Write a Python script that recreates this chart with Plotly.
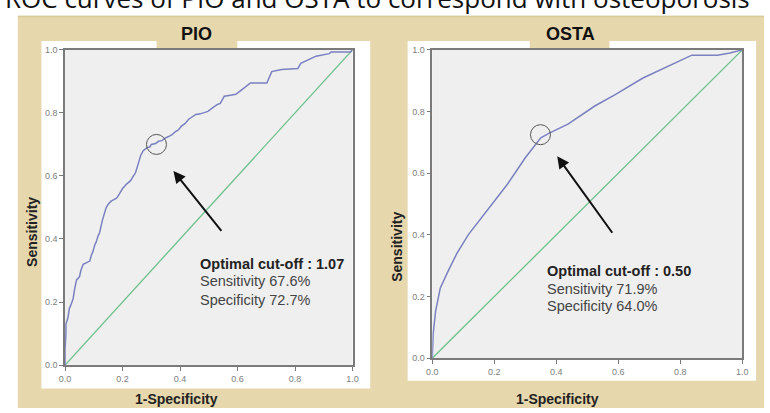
import plotly.graph_objects as go

# ---------------- data ----------------
pio_fpr = [0, 0, 0.003, 0.003, 0.01, 0.015, 0.02, 0.028, 0.033, 0.04, 0.05, 0.055, 0.063, 0.075,
           0.086, 0.092, 0.097, 0.103, 0.108, 0.115, 0.12, 0.13, 0.137, 0.143, 0.15, 0.16, 0.17,
           0.18, 0.19, 0.2, 0.215, 0.228, 0.238, 0.245, 0.255, 0.263, 0.272, 0.285, 0.295, 0.30,
           0.315, 0.325, 0.337, 0.348, 0.36, 0.371, 0.383, 0.394, 0.405, 0.417, 0.43, 0.44, 0.455,
           0.47, 0.48, 0.497, 0.514, 0.53, 0.54, 0.554, 0.575, 0.594, 0.61, 0.63, 0.645, 0.702,
           0.71, 0.719, 0.753, 0.81, 0.82, 0.84, 0.856, 0.873, 0.919, 0.925, 0.993, 1.0]
pio_tpr = [0, 0.05, 0.10, 0.13, 0.15, 0.18, 0.19, 0.21, 0.24, 0.27, 0.28, 0.30, 0.32, 0.325,
           0.33, 0.35, 0.36, 0.38, 0.39, 0.41, 0.42, 0.46, 0.48, 0.50, 0.51, 0.52, 0.525,
           0.53, 0.545, 0.56, 0.575, 0.585, 0.60, 0.61, 0.64, 0.665, 0.68, 0.69, 0.692, 0.70,
           0.703, 0.71, 0.712, 0.72, 0.725, 0.73, 0.74, 0.746, 0.758, 0.766, 0.78, 0.786, 0.795,
           0.797, 0.80, 0.805, 0.817, 0.827, 0.83, 0.853, 0.856, 0.859, 0.87, 0.885, 0.895, 0.895,
           0.915, 0.931, 0.938, 0.941, 0.957, 0.965, 0.972, 0.98, 0.988, 0.993, 0.993, 1.0]

osta_fpr = [0, 0.003, 0.011, 0.026, 0.05, 0.079, 0.116, 0.153, 0.196, 0.243, 0.30, 0.35,
            0.376, 0.439, 0.524, 0.59, 0.678, 0.837, 0.92, 0.96, 1.0]
osta_tpr = [0, 0.08, 0.154, 0.228, 0.28, 0.339, 0.40, 0.449, 0.502, 0.565, 0.65, 0.715,
            0.729, 0.76, 0.818, 0.855, 0.908, 0.983, 0.983, 0.99, 1.0]

ref_line = [0, 1]
tick_vals = [0, 0.2, 0.4, 0.6, 0.8, 1.0]
tick_text = ["0.0", "0.2", "0.4", "0.6", "0.8", "1.0"]

panel_titles = ["PIO", "OSTA"]
cutoffs = ["1.07", "0.50"]
sens_vals = ["67.6%", "71.9%"]
spec_vals = ["72.7%", "64.0%"]
optimal_x = [0.318, 0.349]
optimal_y = [0.70, 0.725]
title_text = "ROC curves of PIO and OSTA to correspond with osteoporosis"

# ---------------- layout helpers ----------------
W, H = 770, 413
def fx(px):
    return px / W
def fy(py):
    return 1 - py / H

TAN = "#e6d7ad"
CURVE = "#7a80c0"
DIAG = "#6cc08b"
AXC = "#7a7a7a"
FONT = "Liberation Sans, Arial"

fig = go.Figure()

fig.add_trace(go.Scatter(x=ref_line, y=ref_line, mode="lines", line=dict(color=DIAG, width=1.3),
                         xaxis="x", yaxis="y", hoverinfo="skip"))
fig.add_trace(go.Scatter(x=pio_fpr, y=pio_tpr, mode="lines", line=dict(color=CURVE, width=1.5),
                         xaxis="x", yaxis="y"))
fig.add_trace(go.Scatter(x=ref_line, y=ref_line, mode="lines", line=dict(color=DIAG, width=1.3),
                         xaxis="x2", yaxis="y2", hoverinfo="skip"))
fig.add_trace(go.Scatter(x=osta_fpr, y=osta_tpr, mode="lines", line=dict(color=CURVE, width=1.5),
                         xaxis="x2", yaxis="y2"))

axis_common = dict(range=[0, 1], tickvals=tick_vals, ticktext=tick_text, ticks="outside",
                   ticklen=4, tickwidth=1, tickcolor=AXC, showline=True, linecolor=AXC,
                   linewidth=1.5, mirror=True, showgrid=False, zeroline=False,
                   tickfont=dict(family=FONT, size=9, color="#808080"),
                   fixedrange=True)

fig.update_layout(
    width=W, height=H, margin=dict(l=0, r=0, t=0, b=0),
    paper_bgcolor="white", plot_bgcolor="rgba(0,0,0,0)", showlegend=False,
    xaxis=dict(domain=[fx(60), fx(352)], anchor="y", **axis_common),
    yaxis=dict(domain=[fy(369), fy(46)], anchor="x", **axis_common),
    xaxis2=dict(domain=[fx(433), fx(748)], anchor="y2", **axis_common),
    yaxis2=dict(domain=[fy(362), fy(46)], anchor="x2", **axis_common),
)

def prect(x0, y0, x1, y1, color):
    fig.add_shape(type="rect", xref="paper", yref="paper", x0=fx(x0), x1=fx(x1),
                  y0=fy(y1), y1=fy(y0), fillcolor=color, line=dict(width=0), layer="below")

prect(12, 11, 770, 413, TAN)
prect(12, 11, 770, 12.5, "#d9c99b")
prect(36, 37, 370, 393, "white")
prect(408, 37, 762, 385, "white")
prect(153, 36, 235, 45, TAN)
prect(532, 36, 613, 45, TAN)
prect(60, 46, 352, 369, "#efefef")
prect(433, 46, 748, 362, "#efefef")

# title (cut off at the top edge, as in the source image)
fig.add_annotation(text=title_text, xref="paper", yref="paper", x=fx(-3), y=fy(13),
                   xanchor="left", yanchor="bottom", showarrow=False,
                   font=dict(family="Open Sans", size=26, color="#111"))

# panel titles
for t, cx in zip(panel_titles, [194, 573]):
    fig.add_annotation(text="<b>%s</b>" % t, xref="paper", yref="paper", x=fx(cx), y=fy(30),
                       xanchor="center", yanchor="middle", showarrow=False,
                       font=dict(family=FONT, size=18, color="#111"))

# axis titles
for cx, cy in [(27, 233), (397, 248)]:
    fig.add_annotation(text="<b>Sensitivity</b>", xref="paper", yref="paper", x=fx(cx), y=fy(cy),
                       textangle=-90, showarrow=False, xanchor="center", yanchor="middle",
                       font=dict(family=FONT, size=14, color="#222"))
for cx, cy in [(173, 404), (560, 404)]:
    fig.add_annotation(text="<b>1-Specificity</b>", xref="paper", yref="paper", x=fx(cx), y=fy(cy),
                       showarrow=False, xanchor="center", yanchor="middle",
                       font=dict(family=FONT, size=14, color="#222"))

# circles at the optimal points
for i, (xs, ys) in enumerate([("x", "y"), ("x2", "y2")]):
    fig.add_shape(type="circle", xref=xs, yref=ys, xsizemode="pixel", ysizemode="pixel",
                  xanchor=optimal_x[i], yanchor=optimal_y[i], x0=-10, x1=10, y0=-10, y1=10,
                  line=dict(color="#555", width=1))

# arrows
arrows = [("x", "y", 0.377, 0.616, 0.548, 0.421), ("x2", "y2", 0.403, 0.655, 0.584, 0.402)]
for xs, ys, hx, hy, tx, ty in arrows:
    fig.add_annotation(xref=xs, yref=ys, axref=xs, ayref=ys, x=hx, y=hy, ax=tx, ay=ty,
                       text="", showarrow=True, arrowhead=2, arrowsize=1.2, arrowwidth=2,
                       arrowcolor="#111")

# text blocks
text_pos = [("x", "y", 0.462, [0.322, 0.266, 0.207]), ("x2", "y2", 0.362, [0.282, 0.225, 0.168])]
for i, (xs, ys, tx, tys) in enumerate(text_pos):
    lines = ["<b>Optimal cut-off : %s</b>" % cutoffs[i], "Sensitivity %s" % sens_vals[i],
             "Specificity %s" % spec_vals[i]]
    cols = ["#222", "#444", "#444"]
    for ln, ty, c in zip(lines, tys, cols):
        fig.add_annotation(xref=xs, yref=ys, x=tx, y=ty, text=ln, showarrow=False,
                           xanchor="left", yanchor="middle",
                           font=dict(family=FONT, size=14.5, color=c))

fig.write_html("out.html", config={"displayModeBar": False},
               post_script="document.body.style.margin='0';document.body.style.overflow='hidden';")
